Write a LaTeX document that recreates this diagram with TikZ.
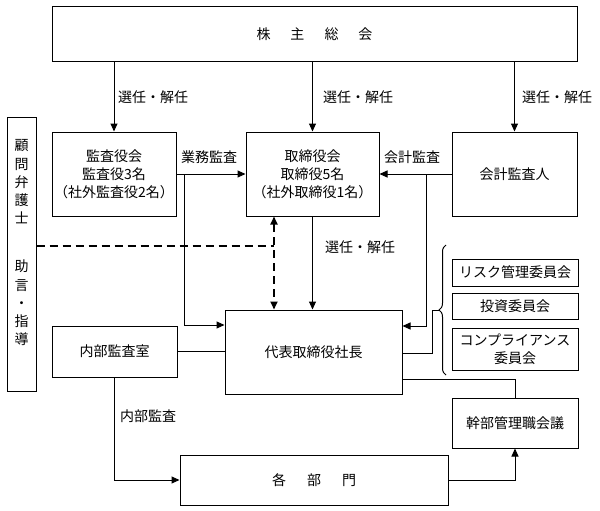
\documentclass[tikz,border=0pt]{standalone}
\usepackage{fontspec}
\setmainfont{Noto Sans CJK JP}
\usetikzlibrary{arrows.meta,decorations.pathreplacing}
\begin{document}
\begin{tikzpicture}[x=1pt,y=-1pt,
  txt/.style={font=\fontsize{14}{18}\selectfont},
  box/.style={draw, line width=1pt, inner sep=0pt, align=center, txt},
  lbl/.style={inner sep=0pt, anchor=west, txt},
  vtxt/.style={inner sep=0pt, align=center, font=\fontsize{14}{18.3}\selectfont},
  conn/.style={line width=1pt},
  arr/.style={conn, -{Triangle[length=8pt,width=7pt]}},
  dsh/.style={line width=1.8pt, dash pattern=on 8pt off 5pt},
  dsharr/.style={dsh, {Triangle[length=8pt,width=7pt]}-{Triangle[length=8pt,width=7pt]}}]
\fill[white] (0,0) rectangle (600,511);
\useasboundingbox (0,0) rectangle (600,511);

% boxes
\node[box, minimum width=525pt, minimum height=55pt] (sh) at (314.5,34.5)
  {株\hspace{20pt}主\hspace{20pt}総\hspace{20pt}会};
\node[box, minimum width=124pt, minimum height=84pt] (kansa) at (114,174)
  {監査役会\\監査役3名\\（社外監査役2名）};
\node[box, minimum width=133pt, minimum height=84pt] (tori) at (312.5,174)
  {取締役会\\取締役5名\\（社外取締役1名）};
\node[box, minimum width=125pt, minimum height=84pt] (kaikei) at (514.5,174)
  {会計監査人};
\node[box, minimum width=29pt, minimum height=274pt] (komon) at (21.5,254) {};
\node[vtxt] (komonA) at (21.5,182) {顧\\問\\弁\\護\\士};
\node[vtxt] (komonB) at (21.5,303) {助\\言\\・\\指\\導};
\node[box, minimum width=177pt, minimum height=84pt] (daihyo) at (313.5,352)
  {代表取締役社長};
\node[box, minimum width=125pt, minimum height=51pt] (naibu) at (114.5,351.5)
  {内部監査室};
\node[box, minimum width=268pt, minimum height=50pt] (kakubu) at (314,480)
  {各\hspace{21pt}部\hspace{21pt}門};
\node[box, minimum width=126pt, minimum height=50pt] (kanbu) at (515,423)
  {幹部管理職会議};
\node[box, minimum width=126pt, minimum height=27pt] (risk) at (515,272.5)
  {リスク管理委員会};
\node[box, minimum width=126pt, minimum height=26pt] (toushi) at (515,306)
  {投資委員会};
\node[box, minimum width=126pt, minimum height=42pt] (comp) at (515,349)
  {コンプライアンス\\委員会};

% labels
\node[lbl] (l1) at (118,97) {選任・解任};
\node[lbl] (l2) at (323,97) {選任・解任};
\node[lbl] (l3) at (522,97) {選任・解任};
\node[lbl] (l4) at (181,157) {業務監査};
\node[lbl] (l5) at (384,157) {会計監査};
\node[lbl] (l6) at (325,247) {選任・解任};
\node[lbl] (l7) at (120,416) {内部監査};

% junction coordinates
\coordinate (j1) at (184,174);
\coordinate (j2) at (426,174);
\coordinate (dc) at (274,246);
\coordinate (bt) at (439,310);
\coordinate (bj) at (432,310);

% connectors
\draw[arr] (kansa.north |- sh.south) -- (kansa.north);
\draw[arr] (tori.north |- sh.south) -- (tori.north);
\draw[arr] (kaikei.north |- sh.south) -- (kaikei.north);
\draw[arr] (kansa.east) -- (tori.west);
\draw[arr] (kaikei.west) -- (tori.east);
\draw[arr] (j1) |- ([yshift=27pt]daihyo.west);
\draw[arr] (j2) |- ([yshift=26pt]daihyo.east);
\draw[arr] (tori.south) -- (tori.south |- daihyo.north);
\draw[conn] (naibu.east) -- (naibu.east -| daihyo.west);
\draw[arr] (naibu.south) |- (kakubu.west);
\draw[conn] ([yshift=-27pt]daihyo.east) -| (kanbu.north);
\draw[arr] (kakubu.east) -| (kanbu.south);
\draw[conn] (daihyo.east |- bj) ++(0,43) -| (bj) -- (bt);
\draw[conn, decorate, decoration={brace, amplitude=7pt}] (446,375) -- (446,245);

% dashed advice line
\draw[dsh] (komon.east |- dc) -- (dc);
\draw[dsharr] (tori.south -| dc) -- (daihyo.north -| dc);
\end{tikzpicture}
\end{document}
